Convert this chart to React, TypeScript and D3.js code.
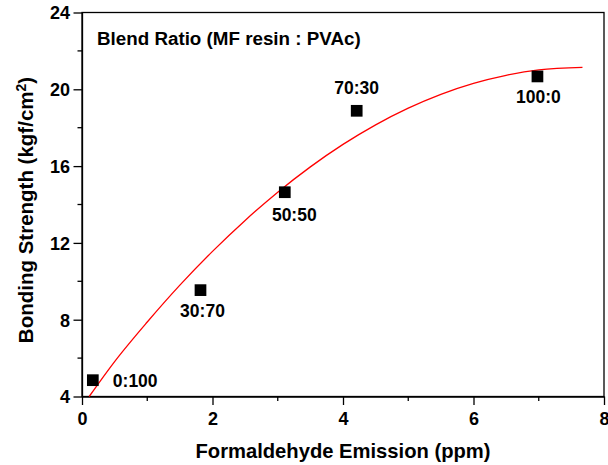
import React, { useEffect, useRef } from "react";
import * as d3 from "d3";

// measured points (formaldehyde emission ppm, bonding strength kgf/cm2)
const blendRatios = ["0:100", "30:70", "50:50", "70:30", "100:0"];
const emission = [0.166, 1.816, 3.108, 4.21, 6.98];
const strength = [4.85, 9.54, 14.64, 18.88, 20.67];

// fitted curve
const fitX = [0.11, 0.5, 1, 1.5, 2, 2.5, 3, 3.5, 4, 4.5, 5, 5.5, 6, 6.5, 7, 7.67];
const fitY = [
  4.0, 5.82, 7.88, 9.8, 11.56, 13.17, 14.64, 15.96, 17.13, 18.15, 19.02, 19.74,
  20.31, 20.73, 21.01, 21.14,
];

const xMajor = [0, 2, 4, 6, 8];
const xMinor = [1, 3, 5, 7];
const yMajor = [4, 8, 12, 16, 20, 24];
const yMinor = [6, 10, 14, 18, 22];

const WIDTH = 608;
const HEIGHT = 465;
const FONT = "'Liberation Sans', Arial, sans-serif";

const App = () => {
  const ref = useRef<SVGSVGElement>(null);

  useEffect(() => {
    const svg = d3.select(ref.current);
    svg.selectAll("*").remove();

    const margin = { top: 12.5, right: 4, bottom: 68.5, left: 82 };
    const x = d3
      .scaleLinear()
      .domain([0, 8])
      .range([margin.left, WIDTH - margin.right]);
    const y = d3
      .scaleLinear()
      .domain([4, 24])
      .range([HEIGHT - margin.bottom, margin.top]);

    // frame
    svg
      .append("rect")
      .attr("x", x(0))
      .attr("y", y(24))
      .attr("width", x(8) - x(0))
      .attr("height", y(4) - y(24))
      .attr("fill", "none")
      .attr("stroke", "#000")
      .attr("stroke-width", 1.3);

    // bottom axis
    const xAxis = svg
      .append("g")
      .attr("transform", `translate(0,${y(4)})`)
      .call(
        d3.axisBottom(x).tickValues(xMajor).tickSize(8.5).tickSizeOuter(0).tickFormat(d3.format("d"))
      );
    xAxis.append("g").call((g) =>
      g
        .selectAll("line.minor")
        .data(xMinor)
        .enter()
        .append("line")
        .attr("x1", (d) => x(d))
        .attr("x2", (d) => x(d))
        .attr("y1", 0)
        .attr("y2", 4.5)
        .attr("stroke", "#000")
        .attr("stroke-width", 1.3)
    );
    xAxis.selectAll("text").attr("dy", 0).attr("y", 28.5);

    // left axis
    const yAxis = svg
      .append("g")
      .attr("transform", `translate(${x(0)},0)`)
      .call(
        d3.axisLeft(y).tickValues(yMajor).tickSize(8.5).tickSizeOuter(0).tickFormat(d3.format("d"))
      );
    yAxis
      .selectAll("line.minor")
      .data(yMinor)
      .enter()
      .append("line")
      .attr("x1", 0)
      .attr("x2", -4.5)
      .attr("y1", (d) => y(d))
      .attr("y2", (d) => y(d))
      .attr("stroke", "#000")
      .attr("stroke-width", 1.3);
    yAxis.selectAll("text").attr("x", -12).attr("dy", "0.35em");

    [xAxis, yAxis].forEach((g) => {
      g.select(".domain").attr("stroke-width", 1.3);
      g.selectAll(".tick line").attr("stroke-width", 1.3);
      g.selectAll("text")
        .attr("font-family", FONT)
        .attr("font-weight", "bold")
        .attr("font-size", 18)
        .attr("fill", "#000");
    });

    // fit curve
    const line = d3
      .line<number>()
      .x((d, i) => x(fitX[i]))
      .y((d) => y(d))
      .curve(d3.curveMonotoneX);
    svg
      .append("path")
      .attr("d", line(fitY))
      .attr("fill", "none")
      .attr("stroke", "#ff0000")
      .attr("stroke-width", 1.3);

    // markers
    const s = 11.7;
    svg
      .selectAll("rect.pt")
      .data(blendRatios)
      .enter()
      .append("rect")
      .attr("x", (d, i) => x(emission[i]) - s / 2)
      .attr("y", (d, i) => y(strength[i]) - s / 2)
      .attr("width", s)
      .attr("height", s)
      .attr("fill", "#000");

    // point labels: [dx, dy, anchor]
    const place: [number, number, string][] = [
      [20, 7, "start"],
      [2, 27, "middle"],
      [9.5, 28.5, "middle"],
      [0, -17, "middle"],
      [1, 26.5, "middle"],
    ];
    svg
      .selectAll("text.lbl")
      .data(blendRatios)
      .enter()
      .append("text")
      .attr("x", (d, i) => x(emission[i]) + place[i][0])
      .attr("y", (d, i) => y(strength[i]) + place[i][1])
      .attr("text-anchor", (d, i) => place[i][2])
      .attr("font-family", FONT)
      .attr("font-weight", "bold")
      .attr("font-size", 17.5)
      .text((d) => d);

    // legend title
    svg
      .append("text")
      .attr("x", 97)
      .attr("y", 45)
      .attr("font-family", FONT)
      .attr("font-weight", "bold")
      .attr("font-size", 18.8)
      .text("Blend Ratio (MF resin : PVAc)");

    // axis titles
    svg
      .append("text")
      .attr("x", (x(0) + x(8)) / 2)
      .attr("y", 458)
      .attr("text-anchor", "middle")
      .attr("font-family", FONT)
      .attr("font-weight", "bold")
      .attr("font-size", 20.2)
      .text("Formaldehyde Emission (ppm)");

    const yt = svg
      .append("text")
      .attr("transform", `translate(33,210) rotate(-90)`)
      .attr("text-anchor", "middle")
      .attr("font-family", FONT)
      .attr("font-weight", "bold")
      .attr("font-size", 20.5);
    yt.append("tspan").text("Bonding Strength (kgf/cm");
    yt.append("tspan").attr("dy", -7).attr("font-size", 14).text("2");
    yt.append("tspan").attr("dy", 7).text(")");
  }, []);

  return (
    <svg
      ref={ref}
      width={WIDTH}
      height={HEIGHT}
      style={{ position: "absolute", left: 0, top: 0, background: "#fff" }}
    ></svg>
  );
};

export default App;
